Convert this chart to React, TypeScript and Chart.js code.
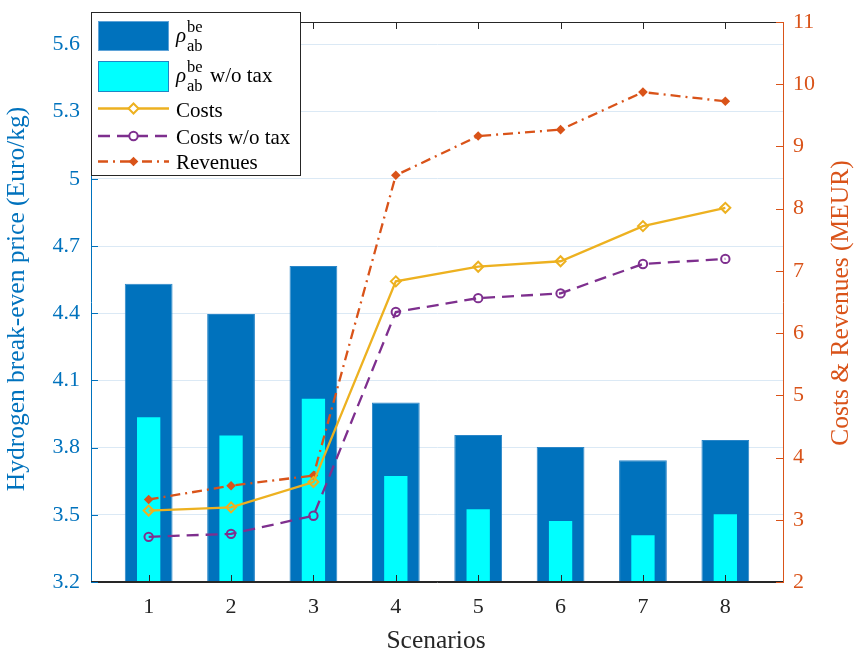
import { useEffect, useRef } from "react";
import { Chart, registerables } from "chart.js";

Chart.register(...registerables);

const scenarios = [1, 2, 3, 4, 5, 6, 7, 8];
const breakEven = [4.532, 4.396, 4.611, 4.001, 3.856, 3.803, 3.744, 3.834];
const breakEvenNoTax = [3.936, 3.854, 4.018, 3.673, 3.525, 3.472, 3.409, 3.502];
const costs = [3.148, 3.2, 3.606, 6.832, 7.067, 7.155, 7.72, 8.014];
const costsNoTax = [2.726, 2.774, 3.064, 6.339, 6.562, 6.638, 7.111, 7.193];
const revenues = [3.326, 3.547, 3.712, 8.536, 9.167, 9.27, 9.873, 9.726];
const leftTicks = [3.2, 3.5, 3.8, 4.1, 4.4, 4.7, 5.0, 5.3, 5.6];
const rightTicks = [2, 3, 4, 5, 6, 7, 8, 9, 10, 11];

const FONT = "'Liberation Serif', 'Times New Roman', serif";
const BLUE = "#0072BD";
const CYAN = "#00FFFF";
const YELLOW = "#EDB120";
const PURPLE = "#7E2F8E";
const ORANGE = "#D95319";
const AXIS = "#262626";
const GRID = "#dbe9f5";
const DASH = [12, 7];
const DASHDOT = [10, 5, 2, 5];
const LW = 2.3;

function diamond(ctx: CanvasRenderingContext2D, x: number, y: number, r: number) {
  ctx.beginPath();
  ctx.moveTo(x - r, y);
  ctx.lineTo(x, y - r);
  ctx.lineTo(x + r, y);
  ctx.lineTo(x, y + r);
  ctx.closePath();
}

const decoPlugin = {
  id: "deco",
  afterDatasetsDraw(chart: any) {
    const { ctx, chartArea: a, scales } = chart;
    ctx.save();
    ctx.lineWidth = 1;
    ctx.setLineDash([]);
    ctx.strokeStyle = AXIS;
    ctx.beginPath();
    ctx.moveTo(a.left, a.bottom - 0.5);
    ctx.lineTo(a.right, a.bottom - 0.5);
    ctx.moveTo(a.left, a.top + 0.5);
    ctx.lineTo(a.right, a.top + 0.5);
    ctx.stroke();
    ctx.beginPath();
    for (const v of scenarios) {
      const px = Math.round(scales.x.getPixelForValue(v)) + 0.5;
      ctx.moveTo(px, a.bottom);
      ctx.lineTo(px, a.bottom - 7);
      ctx.moveTo(px, a.top);
      ctx.lineTo(px, a.top + 7);
    }
    ctx.stroke();
    ctx.strokeStyle = BLUE;
    ctx.beginPath();
    for (const v of leftTicks) {
      const py = Math.round(scales.y.getPixelForValue(v)) + 0.5;
      ctx.moveTo(a.left, py);
      ctx.lineTo(a.left + 7, py);
    }
    ctx.stroke();
    ctx.strokeStyle = ORANGE;
    ctx.beginPath();
    for (const v of rightTicks) {
      const py = Math.round(scales.y1.getPixelForValue(v)) + 0.5;
      ctx.moveTo(a.right, py);
      ctx.lineTo(a.right - 7, py);
    }
    ctx.stroke();
    ctx.restore();
  },
  afterDraw(chart: any) {
    const { ctx, chartArea: a } = chart;
    ctx.save();
    ctx.textBaseline = "alphabetic";
    ctx.textAlign = "center";
    ctx.font = `25.5px ${FONT}`;
    ctx.fillStyle = BLUE;
    ctx.save();
    ctx.translate(24, (a.top + a.bottom) / 2 - 3);
    ctx.rotate(-Math.PI / 2);
    ctx.fillText("Hydrogen break-even price (Euro/kg)", 0, 0);
    ctx.restore();
    ctx.fillStyle = ORANGE;
    ctx.save();
    ctx.translate(848, (a.top + a.bottom) / 2 + 1);
    ctx.rotate(-Math.PI / 2);
    ctx.fillText("Costs & Revenues (MEUR)", 0, 0);
    ctx.restore();
    ctx.fillStyle = AXIS;
    ctx.fillText("Scenarios", (a.left + a.right) / 2 - 1, 648);

    const lx = 91, ly = 12, lw = 210, lh = 164;
    ctx.fillStyle = "#ffffff";
    ctx.fillRect(lx, ly, lw, lh);
    ctx.strokeStyle = AXIS;
    ctx.lineWidth = 1;
    ctx.strokeRect(lx + 0.5, ly + 0.5, lw - 1, lh - 1);

    ctx.fillStyle = BLUE;
    ctx.fillRect(98, 21, 71, 30);
    ctx.strokeStyle = "#5fa3d8";
    ctx.strokeRect(98.5, 21.5, 70, 29);
    ctx.fillStyle = CYAN;
    ctx.fillRect(98, 61, 71, 31);
    ctx.strokeStyle = "#1f86c6";
    ctx.strokeRect(98.5, 61.5, 70, 30);

    const sx0 = 98, sx1 = 169, sxm = 133.5;
    ctx.lineWidth = LW;
    ctx.strokeStyle = YELLOW;
    ctx.setLineDash([]);
    ctx.beginPath();
    ctx.moveTo(sx0, 108.5);
    ctx.lineTo(sx1, 108.5);
    ctx.stroke();
    ctx.lineWidth = 2;
    diamond(ctx, sxm, 108.5, 5);
    ctx.fillStyle = "#ffffff";
    ctx.fill();
    ctx.stroke();
    ctx.lineWidth = LW;
    ctx.strokeStyle = PURPLE;
    ctx.setLineDash(DASH);
    ctx.beginPath();
    ctx.moveTo(sx0, 136);
    ctx.lineTo(sx1, 136);
    ctx.stroke();
    ctx.setLineDash([]);
    ctx.lineWidth = 2;
    ctx.beginPath();
    ctx.arc(sxm, 136, 4.2, 0, Math.PI * 2);
    ctx.fillStyle = "#ffffff";
    ctx.fill();
    ctx.stroke();
    ctx.lineWidth = LW;
    ctx.strokeStyle = ORANGE;
    ctx.setLineDash(DASHDOT);
    ctx.beginPath();
    ctx.moveTo(sx0, 161.5);
    ctx.lineTo(sx1, 161.5);
    ctx.stroke();
    ctx.setLineDash([]);
    diamond(ctx, sxm, 161.5, 4.8);
    ctx.fillStyle = ORANGE;
    ctx.fill();

    ctx.textAlign = "left";
    ctx.fillStyle = "#000000";
    const rho = (base: number, sup: number, sub: number) => {
      ctx.font = `italic 21px ${FONT}`;
      ctx.fillText("ρ", 176, base);
      ctx.font = `16.5px ${FONT}`;
      ctx.fillText("be", 187, sup);
      ctx.fillText("ab", 187, sub);
    };
    rho(41.5, 31.5, 50.5);
    rho(82, 72, 91);
    ctx.font = `21px ${FONT}`;
    ctx.fillText("w/o tax", 210, 82);
    ctx.fillText("Costs", 176, 117);
    ctx.fillText("Costs w/o tax", 176, 143.5);
    ctx.fillText("Revenues", 176, 168.5);
    ctx.restore();
  },
};

export default function App() {
  const ref = useRef<HTMLCanvasElement>(null);
  useEffect(() => {
    const canvas = ref.current!;
    const xy = (arr: number[]) => scenarios.map((x, i) => ({ x, y: arr[i] }));
    const chart = new Chart(canvas, {
      type: "bar",
      data: {
        datasets: [
          {
            type: "line",
            label: "Costs",
            data: xy(costs),
            yAxisID: "y1",
            borderColor: YELLOW,
            borderWidth: LW,
            pointStyle: "rectRot",
            pointRadius: 5,
            pointBorderWidth: 2,
            pointBackgroundColor: "rgba(255,255,255,0)",
            pointBorderColor: YELLOW,
            tension: 0,
            order: 1,
          } as any,
          {
            type: "line",
            label: "Costs w/o tax",
            data: xy(costsNoTax),
            yAxisID: "y1",
            borderColor: PURPLE,
            borderWidth: LW,
            borderDash: DASH,
            pointStyle: "circle",
            pointRadius: 4.2,
            pointBorderWidth: 2,
            pointBackgroundColor: "rgba(255,255,255,0)",
            pointBorderColor: PURPLE,
            tension: 0,
            order: 2,
          } as any,
          {
            type: "line",
            label: "Revenues",
            data: xy(revenues),
            yAxisID: "y1",
            borderColor: ORANGE,
            borderWidth: LW,
            borderDash: DASHDOT,
            pointStyle: "rectRot",
            pointRadius: 4.8,
            pointBorderWidth: 0,
            pointBackgroundColor: ORANGE,
            pointBorderColor: ORANGE,
            tension: 0,
            order: 3,
          } as any,
          {
            type: "bar",
            label: "rho w/o tax",
            data: xy(breakEvenNoTax),
            yAxisID: "y",
            backgroundColor: CYAN,
            grouped: false,
            categoryPercentage: 1,
            barPercentage: 0.283,
            order: 4,
          } as any,
          {
            type: "bar",
            label: "rho",
            data: xy(breakEven),
            yAxisID: "y",
            backgroundColor: BLUE,
            borderColor: "#2a86c8",
            borderWidth: 1,
            grouped: false,
            categoryPercentage: 1,
            barPercentage: 0.58,
            order: 5,
          } as any,
        ],
      },
      options: {
        responsive: false,
        animation: false,
        devicePixelRatio: 1,
        layout: { padding: { top: 12, left: 0, right: 0, bottom: 0 } },
        plugins: { legend: { display: false }, tooltip: { enabled: false } },
        scales: {
          x: {
            type: "linear",
            position: "bottom",
            min: 0.3,
            max: 8.7,
            offset: false,
            grid: { display: false, drawTicks: false, offset: false },
            border: { display: true, color: AXIS, width: 1 },
            ticks: { color: AXIS, font: { family: FONT, size: 22 }, padding: 12, maxRotation: 0 },
            afterBuildTicks: (s: any) => {
              s.ticks = scenarios.map((v) => ({ value: v }));
            },
            afterFit: (s: any) => {
              s.height = 72;
            },
          },
          y: {
            type: "linear",
            position: "left",
            min: 3.2,
            max: 5.7,
            grid: { color: GRID, drawTicks: false, lineWidth: 1 },
            border: { display: true, color: BLUE, width: 1 },
            ticks: {
              color: BLUE,
              font: { family: FONT, size: 22, lineHeight: 1 },
              padding: 11,
              callback: (v: any) => String(parseFloat(Number(v).toFixed(1))),
            },
            afterBuildTicks: (s: any) => {
              s.ticks = leftTicks.map((v) => ({ value: v }));
            },
            afterFit: (s: any) => {
              s.width = 91;
            },
          },
          y1: {
            type: "linear",
            position: "right",
            min: 2,
            max: 11,
            grid: { display: false, drawTicks: false },
            border: { display: true, color: ORANGE, width: 1 },
            ticks: {
              color: ORANGE,
              font: { family: FONT, size: 22, lineHeight: 1 },
              padding: 10,
              callback: (v: any) => String(v),
            },
            afterBuildTicks: (s: any) => {
              s.ticks = rightTicks.map((v) => ({ value: v }));
            },
            afterFit: (s: any) => {
              s.width = 71;
            },
          },
        },
      } as any,
      plugins: [decoPlugin],
    });
    return () => chart.destroy();
  }, []);
  return (
    <div style={{ position: "fixed", left: 0, top: 0, width: 854, height: 654, background: "#ffffff" }}>
      <canvas ref={ref} width={854} height={654} style={{ display: "block", width: 854, height: 654 }} />
    </div>
  );
}
